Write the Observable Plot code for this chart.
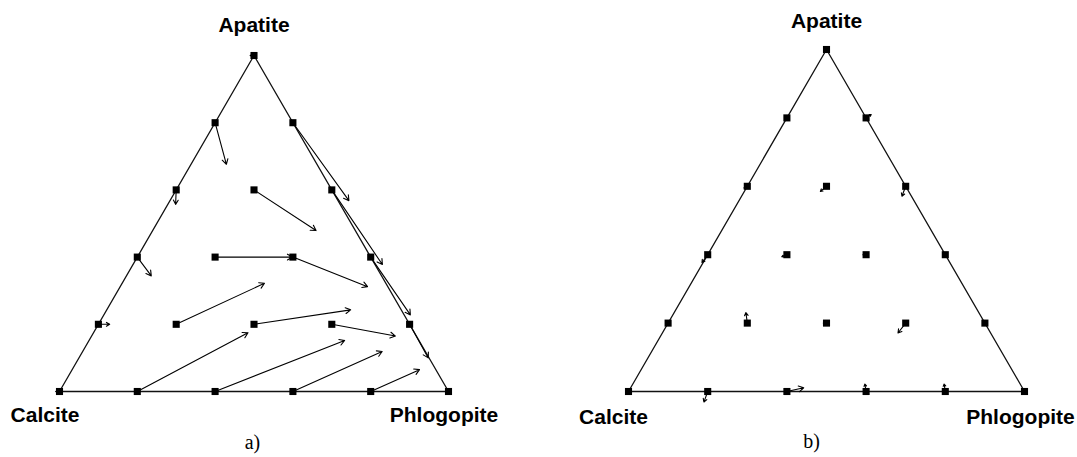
<!DOCTYPE html>
<html>
<head>
<meta charset="utf-8">
<script src="https://cdn.jsdelivr.net/npm/d3@7"></script>
<script src="https://cdn.jsdelivr.net/npm/@observablehq/plot@0.6"></script>
<style>
  html, body { margin: 0; padding: 0; background: #fff; }
  #wrap { position: relative; width: 1077px; height: 457px; overflow: hidden; }
  #pa, #pb { position: absolute; top: 0; }
  #pa { left: 0; }
  #pb { left: 538px; }
</style>
</head>
<body>
<div id="wrap"><div id="pa"></div><div id="pb"></div></div>
<script>
// Ternary components: Apatite (top), Phlogopite (bottom right), Calcite = 1 - A - P (bottom left)
const vertexNames = ["Apatite", "Calcite", "Phlogopite"];
const vertexApatite = [1, 0, 0];
const vertexPhlogopite = [0, 0, 1];

// grid of starting compositions
const startApatite    = [1, .8, .8, .6, .6, .6, .4, .4, .4, .4, .2, .2, .2, .2, .2, 0, 0, 0, 0, 0, 0];
const startPhlogopite = [0, 0, .2, 0, .2, .4, 0, .2, .4, .6, 0, .2, .4, .6, .8, 0, .2, .4, .6, .8, 1];

// panel a) arrow end compositions
const endApatiteA    = [1, .676, .568, .557, .479, .378, .344, .400, .312, .228, .200, .322, .243, .165, .100, 0, .175, .152, .119, .065, 0];
const endPhlogopiteA = [-.01, .091, .460, .020, .420, .641, .064, .399, .636, .788, .029, .366, .627, .781, .898, -.01, .397, .657, .770, .893, 1];

// panel b) arrow end compositions
const endApatiteB    = [1, .8, .810, .595, .585, .571, .377, .394, .400, .4, .2, .231, .200, .171, .2, 0, -.031, .011, .022, .022, 0];
const endPhlogopiteB = [0, 0, .208, -.006, .192, .405, -.003, .190, .392, .6, 0, .181, .392, .595, .8, 0, .206, .437, .586, .786, 1];

const captions = ["a)", "b)"];

const S = Math.sqrt(3) / 2;
const tx = (a, p) => p + a / 2;
const ty = (a) => a * S;

const vertices = vertexNames.map((name, i) => ({name, a: vertexApatite[i], p: vertexPhlogopite[i]}));
const outline = [...vertices, vertices[0]];

function panel(endA, endP, opts) {
  const arrows = startApatite.map((a, i) => ({a1: a, p1: startPhlogopite[i], a2: endA[i], p2: endP[i]}));
  const labelFont = {fontFamily: "Liberation Sans, Arial, sans-serif", fontWeight: "bold", fontSize: 21, fill: "#000"};
  return Plot.plot({
    width: opts.width, height: 457,
    marginLeft: opts.ml, marginRight: opts.mr, marginTop: opts.mt, marginBottom: opts.mb,
    x: {domain: [0, 1], axis: null},
    y: {domain: [0, S], axis: null},
    style: {background: "#fff", overflow: "visible"},
    marks: [
      Plot.line(outline, {x: d => tx(d.a, d.p), y: d => ty(d.a), stroke: "#111", strokeWidth: 1.3}),
      Plot.arrow(arrows, {
        x1: d => tx(d.a1, d.p1), y1: d => ty(d.a1),
        x2: d => tx(d.a2, d.p2), y2: d => ty(d.a2),
        stroke: "#000", strokeWidth: 1.1, headLength: 8, headAngle: 60
      }),
      Plot.dot(arrows, {x: d => tx(d.a1, d.p1), y: d => ty(d.a1), symbol: "square", r: 4, fill: "#000", stroke: "none"}),
      Plot.text([vertices[0]], {x: d => tx(d.a, d.p), y: d => ty(d.a), text: "name", dy: opts.topDy, ...labelFont}),
      Plot.text([vertices[1]], {x: d => tx(d.a, d.p), y: d => ty(d.a), text: "name", dx: opts.calDx, dy: opts.botDy, ...labelFont}),
      Plot.text([vertices[2]], {x: d => tx(d.a, d.p), y: d => ty(d.a), text: "name", dx: opts.phlDx, dy: opts.botDy, ...labelFont}),
      Plot.text([opts.caption], {x: () => 0.5, y: () => 0, text: d => d, dx: opts.capDx, dy: opts.capDy,
        fontFamily: "Liberation Serif, Times New Roman, serif", fontSize: 20, fill: "#000"})
    ]
  });
}

document.getElementById("pa").appendChild(panel(endApatiteA, endPhlogopiteA, {
  width: 538, ml: 59, mr: 90, mt: 55, mb: 66,
  topDy: -30, calDx: -14.5, phlDx: -4.5, botDy: 24, caption: captions[0], capDx: -1.5, capDy: 51
}));
document.getElementById("pb").appendChild(panel(endApatiteB, endPhlogopiteB, {
  width: 539, ml: 90, mr: 53, mt: 49, mb: 66,
  topDy: -28, calDx: -15, phlDx: -4, botDy: 26, caption: captions[1], capDx: -15, capDy: 50
}));
</script>
</body>
</html>
